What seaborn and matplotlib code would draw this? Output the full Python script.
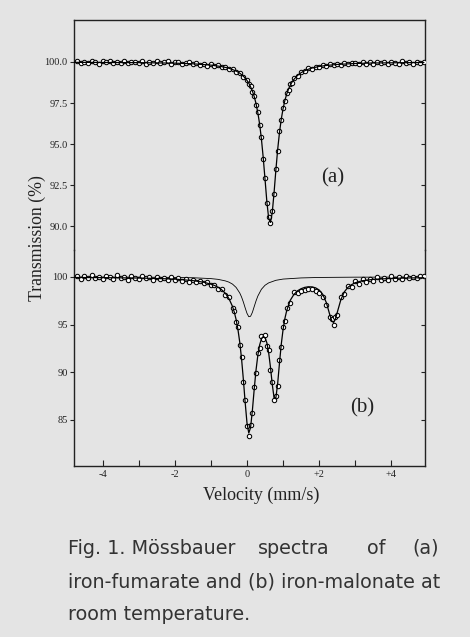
import numpy as np
import pandas as pd
import matplotlib
matplotlib.use("Agg")
import matplotlib.pyplot as plt
import seaborn as sns

# ---------------- data ----------------
# (a) iron-fumarate: measured points
va = [-4.7, -4.6, -4.5, -4.4, -4.3, -4.2, -4.1, -4.0, -3.9, -3.8, -3.7, -3.6, -3.5, -3.4, -3.3, -3.2,
      -3.1, -3.0, -2.9, -2.8, -2.7, -2.6, -2.5, -2.4, -2.3, -2.2, -2.1, -2.0, -1.9, -1.8, -1.7, -1.6,
      -1.5, -1.4, -1.3, -1.2, -1.1, -1.0, -0.9, -0.8, -0.7, -0.6, -0.5, -0.4, -0.3, -0.2, -0.1,
      0.0, 0.05, 0.10, 0.15, 0.20, 0.25, 0.30, 0.35, 0.40, 0.45, 0.50, 0.55, 0.60, 0.65, 0.70, 0.75,
      0.80, 0.85, 0.90, 0.95, 1.00, 1.05, 1.10, 1.15, 1.20, 1.25, 1.30,
      1.4, 1.5, 1.6, 1.7, 1.8, 1.9, 2.0, 2.1, 2.2, 2.3, 2.4, 2.5, 2.6, 2.7, 2.8, 2.9, 3.0, 3.1, 3.2,
      3.3, 3.4, 3.5, 3.6, 3.7, 3.8, 3.9, 4.0, 4.1, 4.2, 4.3, 4.4, 4.5, 4.6, 4.7, 4.8, 4.9]
ta = [100.05, 99.92, 100.02, 99.95, 100.08, 99.98, 99.90, 100.04, 99.97, 100.06, 99.93, 100.01,
      99.96, 100.07, 99.91, 100.03, 99.97, 99.94, 100.05, 99.90, 100.00, 99.95, 100.06, 99.92, 99.98,
      100.04, 99.89, 99.97, 100.02, 99.88, 99.95, 100.00, 99.86, 99.93, 99.82, 99.90, 99.78, 99.85,
      99.74, 99.80, 99.68, 99.70, 99.58, 99.57, 99.41, 99.35, 99.10,
      98.92, 98.66, 98.53, 98.18, 97.95, 97.40, 96.98, 96.15, 95.40, 94.08, 92.95, 91.42, 90.55,
      90.18, 90.90, 91.95, 93.48, 94.60, 95.78, 96.45, 97.22, 97.60, 98.10, 98.28, 98.65, 98.72, 99.00,
      99.14, 99.40, 99.44, 99.61, 99.58, 99.72, 99.68, 99.80, 99.75, 99.86, 99.79, 99.90, 99.83,
      99.95, 99.86, 99.92, 99.96, 99.85, 100.01, 99.90, 99.97, 99.88, 100.03, 99.92, 99.99, 99.87,
      100.02, 99.94, 99.89, 100.04, 99.93, 99.98, 99.88, 100.03, 99.95, 99.99]
# (a) fitted curve
va_fit = [-4.8, -3.0, -2.0, -1.5, -1.0, -0.7, -0.5, -0.4, -0.3, -0.2, -0.1,
          0.0, 0.05, 0.10, 0.15, 0.20, 0.25, 0.30, 0.35, 0.40, 0.45, 0.50, 0.55, 0.60, 0.65, 0.70,
          0.75, 0.80, 0.85, 0.90, 0.95, 1.00, 1.05, 1.10, 1.15, 1.20, 1.25, 1.30,
          1.4, 1.5, 1.6, 1.7, 1.8, 2.0, 2.2, 2.5, 3.0, 3.5, 4.0, 4.5, 4.9]
ta_fit = [99.98, 99.96, 99.93, 99.89, 99.81, 99.72, 99.62, 99.54, 99.45, 99.32, 99.14,
          98.88, 98.71, 98.49, 98.23, 97.90, 97.47, 96.92, 96.22, 95.31, 94.17, 92.85, 91.50, 90.49,
          90.22, 90.82, 92.03, 93.40, 94.66, 95.70, 96.52, 97.16, 97.66, 98.04, 98.34, 98.59, 98.78,
          98.94, 99.18, 99.35, 99.47, 99.56, 99.63, 99.73, 99.79, 99.85, 99.91, 99.94, 99.95, 99.96, 99.97]

# (b) iron-malonate: measured points
vb = [-4.7, -4.6, -4.5, -4.4, -4.3, -4.2, -4.1, -4.0, -3.9, -3.8, -3.7, -3.6, -3.5, -3.4, -3.3, -3.2,
      -3.1, -3.0, -2.9, -2.8, -2.7, -2.6, -2.5, -2.4, -2.3, -2.2, -2.1, -2.0, -1.9, -1.8, -1.7, -1.6,
      -1.5, -1.4, -1.3, -1.2, -1.1, -1.0, -0.9, -0.8, -0.7, -0.6, -0.5, -0.4,
      -0.35, -0.3, -0.25, -0.2, -0.15, -0.1, -0.05, 0.0, 0.05, 0.1, 0.15, 0.2, 0.25, 0.3, 0.35, 0.4,
      0.45, 0.5, 0.55, 0.6, 0.65, 0.7, 0.75, 0.8, 0.85, 0.9, 0.95, 1.0, 1.05, 1.1,
      1.2, 1.3, 1.4, 1.5, 1.6, 1.7, 1.8, 1.9, 2.0, 2.1, 2.2, 2.3, 2.35, 2.4, 2.45, 2.5, 2.6, 2.7,
      2.8, 2.9, 3.0, 3.1, 3.2, 3.3, 3.4, 3.5, 3.6, 3.7, 3.8, 3.9, 4.0, 4.1, 4.2, 4.3, 4.4, 4.5,
      4.6, 4.7, 4.8, 4.9]
tb = [100.15, 99.80, 100.05, 99.92, 100.20, 99.85, 100.02, 99.75, 100.10, 99.95, 99.82, 100.18,
      99.88, 100.00, 99.72, 100.08, 99.90, 99.78, 100.12, 99.85, 99.95, 99.70, 100.02, 99.80, 99.92,
      99.65, 99.98, 99.72, 99.85, 99.60, 99.78, 99.52, 99.70, 99.45, 99.62, 99.35, 99.50, 99.15,
      99.20, 98.75, 98.75, 98.10, 97.85, 96.70,
      96.45, 95.30, 94.70, 92.90, 91.65, 88.95, 87.10, 84.40, 83.30, 84.50, 85.70, 88.50, 89.90,
      92.05, 92.55, 93.80, 93.45, 93.95, 92.80, 92.30, 90.25, 89.00, 87.05, 87.55, 88.55, 91.25,
      92.70, 94.80, 95.35, 96.75,
      97.30, 98.40, 98.30, 98.55, 98.60, 98.75, 98.70, 98.55, 98.35, 97.95, 97.05, 95.75, 95.55,
      95.00, 95.85, 96.05, 97.85, 98.25, 99.10, 99.00, 99.55, 99.25, 99.75, 99.45, 99.80, 99.60,
      99.95, 99.65, 99.90, 99.70, 100.05, 99.75, 99.95, 99.80, 100.10, 99.85, 100.00, 99.90,
      100.15, 100.05]
# (b) total fitted envelope
vb_fit = [-4.8, -4.0, -3.0, -2.5, -2.0, -1.5, -1.2, -1.0, -0.9, -0.8, -0.7, -0.6, -0.5, -0.4,
          -0.35, -0.3, -0.25, -0.2, -0.15, -0.1, -0.05, 0.0, 0.05, 0.1, 0.15, 0.2, 0.25, 0.3, 0.35,
          0.4, 0.45, 0.5, 0.55, 0.6, 0.65, 0.7, 0.75, 0.8, 0.85, 0.9, 0.95, 1.0, 1.05, 1.1,
          1.2, 1.3, 1.4, 1.5, 1.6, 1.7, 1.8, 1.9, 2.0, 2.1, 2.2, 2.3, 2.35, 2.4, 2.45, 2.5, 2.6,
          2.7, 2.8, 2.9, 3.0, 3.2, 3.5, 4.0, 4.5, 4.9]
tb_fit = [99.95, 99.93, 99.89, 99.84, 99.78, 99.62, 99.45, 99.25, 99.11, 98.92, 98.66, 98.29,
          97.74, 96.90, 96.30, 95.52, 94.49, 93.15, 91.42, 89.25, 86.84, 84.69, 83.63, 84.20, 86.01,
          88.21, 90.21, 91.76, 92.85, 93.50, 93.75, 93.63, 93.10, 92.07, 90.55, 88.74, 87.33, 87.31,
          88.82, 90.96, 92.95, 94.50, 95.64, 96.47, 97.56, 98.17, 98.55, 98.77, 98.91, 98.97, 98.96,
          98.86, 98.63, 98.17, 97.29, 95.95, 95.38, 95.23, 95.60, 96.28, 97.62, 98.46, 98.93, 99.20,
          99.40, 99.61, 99.75, 99.85, 99.90, 99.92]
# (b) single sub-spectrum line (thin curve)
vb_sub = [-4.8, -3.0, -2.0, -1.5, -1.0, -0.8, -0.6, -0.5, -0.4, -0.3, -0.2, -0.15, -0.1, -0.05,
          0.0, 0.05, 0.1, 0.15, 0.2, 0.25, 0.3, 0.4, 0.5, 0.6, 0.8, 1.0, 1.5, 2.0, 3.0, 4.9]
tb_sub = [99.99, 99.98, 99.95, 99.92, 99.83, 99.75, 99.59, 99.46, 99.25, 98.90, 98.32, 97.90,
          97.37, 96.76, 96.19, 95.83, 95.88, 96.29, 96.89, 97.48, 97.99, 98.71, 99.13, 99.38,
          99.65, 99.78, 99.90, 99.95, 99.98, 99.99]

xticks = [-4, -2, 0, 2, 4]
xticklabels = ["-4", "-2", "0", "+2", "+4"]
yticks_a = [100.0, 97.5, 95.0, 92.5, 90.0]
yticklabels_a = ["100.0", "97.5", "95.0", "92.5", "90.0"]
yticks_b = [100, 95, 90, 85]
yticklabels_b = ["100", "95", "90", "85"]

# ---------------- figure ----------------
sns.set_theme(style="ticks")
plt.rcParams["font.family"] = ["Liberation Serif", "DejaVu Serif"]

W, H = 470, 637
bg = "#e4e4e4"
fig = plt.figure(figsize=(W / 100, H / 100), dpi=100, facecolor=bg)

def px_axes(x0, y0, x1, y1):
    return fig.add_axes([x0 / W, 1 - y1 / H, (x1 - x0) / W, (y1 - y0) / H])

axA = px_axes(74, 20, 425, 250)
axB = px_axes(74, 250, 425, 466)

dfa = pd.DataFrame({"v": va, "T": ta})
dfb = pd.DataFrame({"v": vb, "T": tb})

for ax in (axA, axB):
    ax.patch.set_alpha(0)
    ax.set_xlim(-4.79, 4.93)
    for s in ax.spines.values():
        s.set_color("#222222")
        s.set_linewidth(1.0)

sns.scatterplot(data=dfa, x="v", y="T", ax=axA, marker="o", s=10, facecolor="white",
                edgecolor="black", linewidth=0.75, zorder=3)
sns.lineplot(x=va_fit, y=ta_fit, ax=axA, color="black", lw=0.9, zorder=4, estimator=None, sort=False)

sns.scatterplot(data=dfb, x="v", y="T", ax=axB, marker="o", s=10, facecolor="white",
                edgecolor="black", linewidth=0.75, zorder=3)
sns.lineplot(x=vb_fit, y=tb_fit, ax=axB, color="black", lw=0.9, zorder=4, estimator=None, sort=False)
sns.lineplot(x=vb_sub, y=tb_sub, ax=axB, color="black", lw=0.6, zorder=2, estimator=None, sort=False)

axA.set_ylim(88.54, 102.56)
axB.set_ylim(80.17, 102.83)

axA.spines["bottom"].set_visible(False)
axB.spines["top"].set_visible(False)

axA.set_xticks([])
axA.set_yticks(yticks_a)
axA.set_yticklabels(yticklabels_a)
axB.set_yticks(yticks_b)
axB.set_yticklabels(yticklabels_b)
axB.set_xticks(xticks)
axB.set_xticklabels(xticklabels)
axB.set_xticks([-3, -1, 1, 3], minor=True)

for ax in (axA, axB):
    ax.set_xlabel("")
    ax.set_ylabel("")
    ax.tick_params(axis="y", which="both", direction="out", length=3, width=0.8, labelsize=7.5,
                   pad=1.5, right=True, left=True, colors="#222222")
axB.tick_params(axis="x", which="both", direction="in", length=4, width=0.8, labelsize=7.5,
                pad=3, colors="#222222", top=False)
for ax in (axA, axB):
    # right-side ticks point inward
    for t in ax.yaxis.get_major_ticks():
        t.tick2line.set_marker(matplotlib.lines.TICKLEFT)

fig.text(333 / W, 1 - 178 / H, "(a)", ha="center", va="center", fontsize=15, color="#222222")
fig.text(362 / W, 1 - 408 / H, "(b)", ha="center", va="center", fontsize=15, color="#222222")
fig.text(261 / W, 1 - 495 / H, "Velocity (mm/s)", ha="center", va="center", fontsize=13,
         color="#222222")
fig.text(37 / W, 1 - 238 / H, "Transmission (%)", ha="center", va="center", rotation=90,
         fontsize=12.8, color="#222222")

cap = dict(fontsize=13.8, color="#333333", family=["DejaVu Sans"], va="center", ha="left")
fig.text(68 / W, 1 - 548 / H, "Fig. 1. Mössbauer", **cap)
fig.text(258 / W, 1 - 548 / H, "spectra", **cap)
fig.text(367 / W, 1 - 548 / H, "of", **cap)
fig.text(412 / W, 1 - 548 / H, "(a)", **cap)
fig.text(68 / W, 1 - 582 / H, "iron-fumarate and (b) iron-malonate at", **cap)
fig.text(68 / W, 1 - 615 / H, "room temperature.", **cap)

fig.savefig("out.png", dpi=100, facecolor=bg)
